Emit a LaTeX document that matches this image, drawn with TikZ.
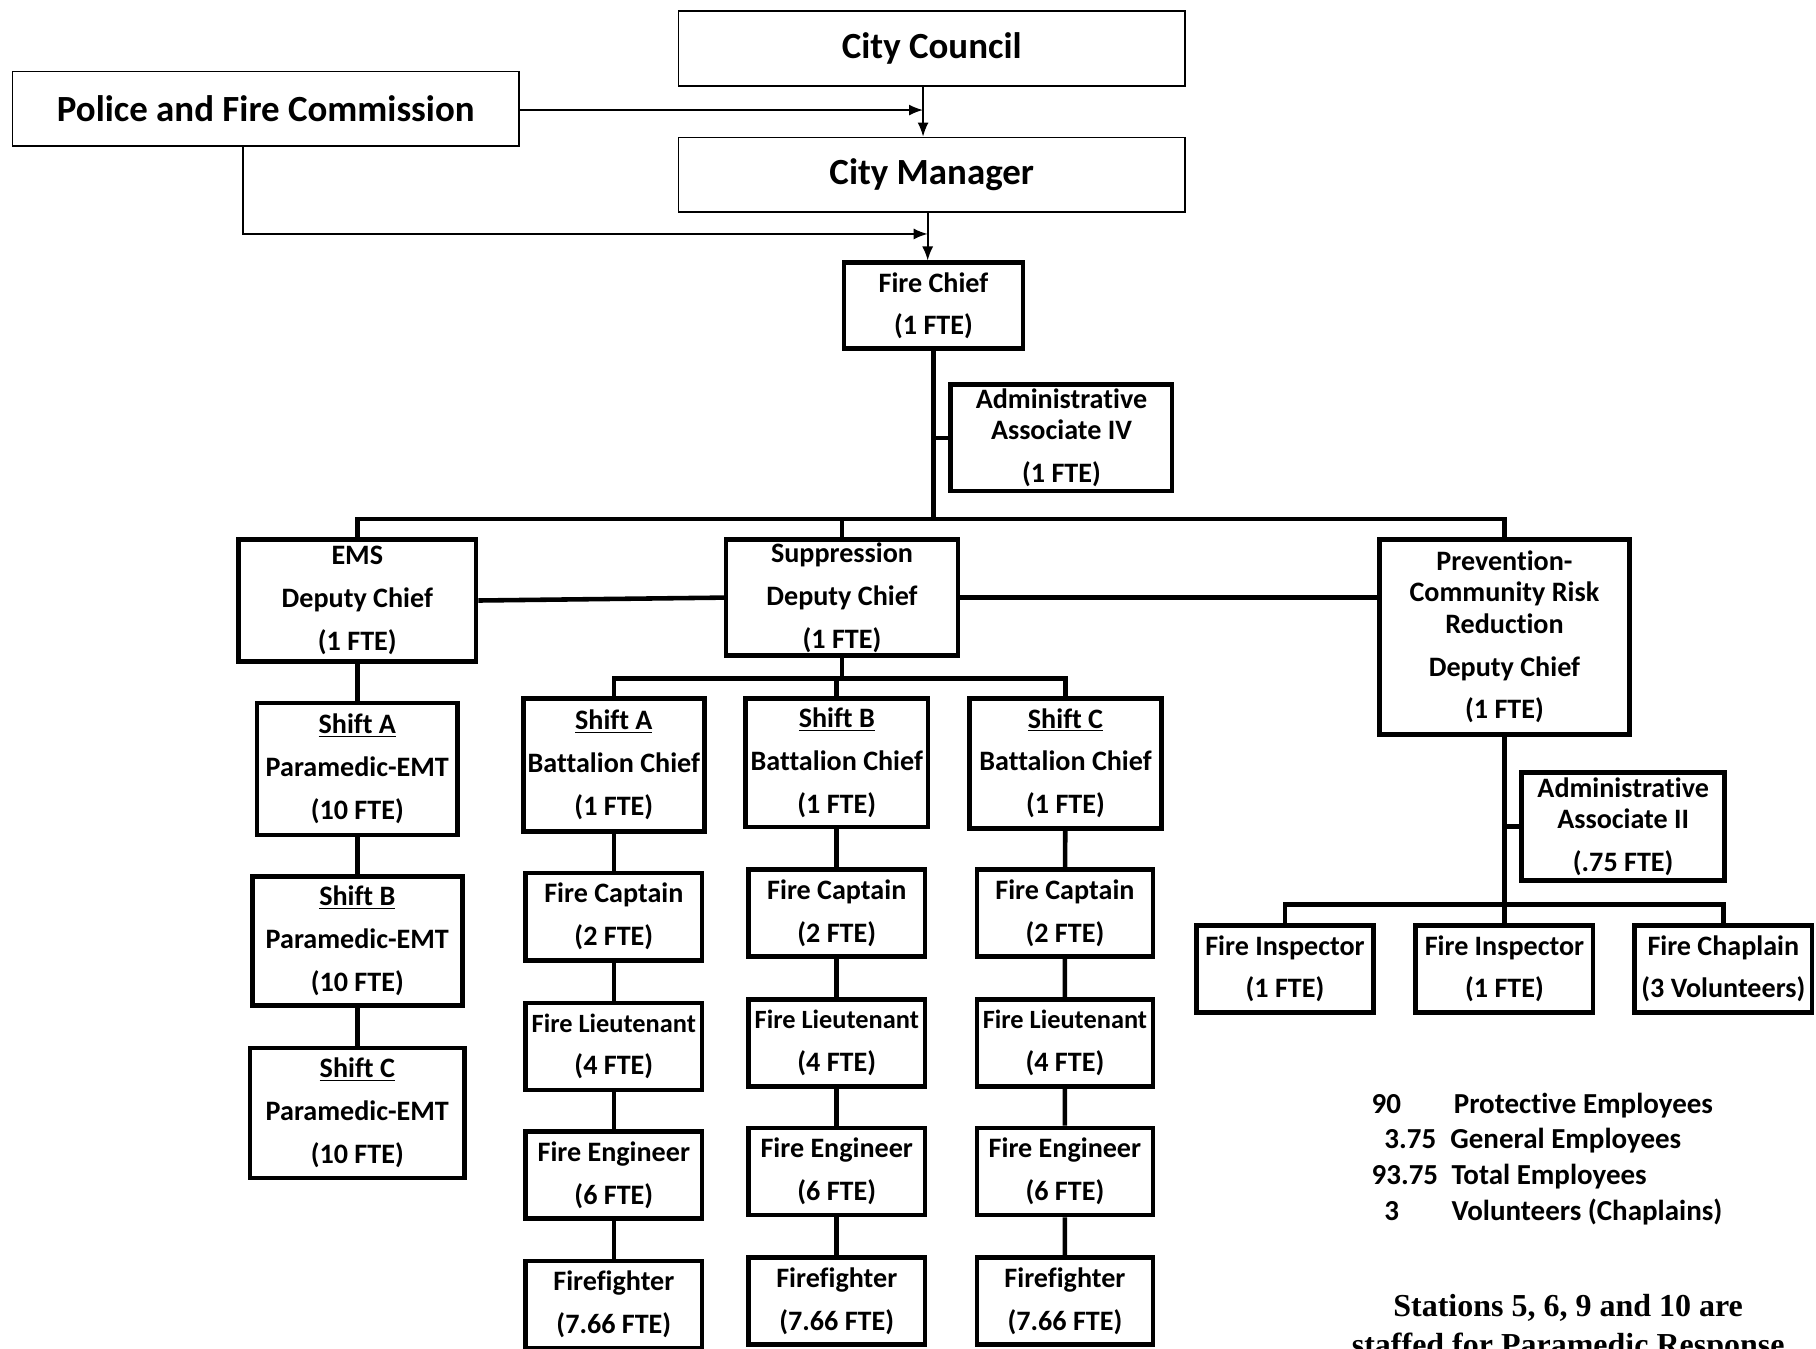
\documentclass[tikz,border=0pt]{standalone}
\usepackage{fontspec}
\setmainfont{Carlito}[Ligatures={TeX,NoCommon}]
\newfontfamily\timesfont{Liberation Serif}
\usetikzlibrary{arrows.meta}

\begin{document}
\begin{tikzpicture}[x=0.023164cm,y=-0.023164cm,
	govbox/.style={draw,line width=1pt,minimum width=10.134cm,minimum height=1.494cm,
		font=\fontsize{21}{25}\selectfont\bfseries},
	unit/.style={draw,line width=2.6pt,inner sep=0pt,align=center,
		font=\fontsize{16}{24.4}\selectfont\bfseries},
	crew/.style={unit,minimum width=3.526cm,minimum height=1.742cm},
	conn/.style={line width=2.6pt},
	arr/.style={line width=1pt,-{Latex[length=0.28cm,width=0.22cm]}},
	tally/.style={inner sep=0pt,anchor=base west,font=\fontsize{16.5}{20}\selectfont\bfseries},
	note/.style={inner sep=0pt,anchor=base,font=\timesfont\fontsize{18.2}{22}\selectfont\bfseries}]
\useasboundingbox (0,0) rectangle (1568,1164);

\node[govbox] (council) at (804.5,42) {City Council};
\node[govbox] (pfc) at (229.5,94) {Police and Fire Commission};
\node[govbox] (manager) at (804.5,151) {City Manager};

\node[unit,minimum width=3.572cm,minimum height=1.719cm] (chief) at (806,264) {Fire Chief\\(1 FTE)};
\node[unit,minimum width=4.429cm,minimum height=2.136cm] (admIV) at (916.5,378)
	{Administrative\\[-6.6pt]Associate IV\\(1 FTE)};

\node[unit,minimum width=4.753cm,minimum height=2.437cm] (ems) at (308.5,518.5) {EMS\\Deputy Chief\\(1 FTE)};
\node[unit,minimum width=4.637cm,minimum height=2.321cm] (sup) at (727,516) {Suppression\\Deputy Chief\\(1 FTE)};
\node[unit,minimum width=5.008cm,minimum height=3.896cm] (prev) at (1299,550)
	{Prevention-\\[-6.6pt]Community Risk\\[-6.6pt]Reduction\\Deputy Chief\\(1 FTE)};

\node[unit,minimum width=4.012cm,minimum height=2.645cm] (emsA) at (308.5,664) {\underline{Shift A}\\Paramedic-EMT\\(10 FTE)};
\node[unit,minimum width=4.197cm,minimum height=2.576cm] (emsB) at (308.5,812.5) {\underline{Shift B}\\Paramedic-EMT\\(10 FTE)};
\node[unit,minimum width=4.290cm,minimum height=2.599cm] (emsC) at (308.5,961) {\underline{Shift C}\\Paramedic-EMT\\(10 FTE)};

\node[unit,minimum width=3.618cm,minimum height=2.668cm] (bcA) at (530,660.5) {\underline{Shift A}\\Battalion Chief\\(1 FTE)};
\node[unit,minimum width=3.641cm,minimum height=2.576cm] (bcB) at (722.5,658.5) {\underline{Shift B}\\Battalion Chief\\(1 FTE)};
\node[unit,minimum width=3.850cm,minimum height=2.599cm] (bcC) at (920,659) {\underline{Shift C}\\Battalion Chief\\(1 FTE)};

\foreach \c/\x/\d in {A/530/0,B/722.5/3,C/919.5/3}{
	\node[crew] (cap\c) at (\x,791.5-\d) {Fire Captain\\(2 FTE)};
	\node[crew] (lt\c) at (\x,903.5-\d) {{\fontsize{15}{24.4}\selectfont Fire Lieutenant}\\(4 FTE)};
	\node[crew] (eng\c) at (\x,1014.5-\d) {Fire Engineer\\(6 FTE)};
	\node[crew] (ff\c) at (\x,1126.5-\d) {Firefighter\\(7.66 FTE)};
	\draw[conn] (bc\c) -- (cap\c) -- (lt\c) -- (eng\c) -- (ff\c);
}

\node[unit,minimum width=4.058cm,minimum height=2.159cm] (admII) at (1401.5,713.5)
	{Administrative\\[-6.6pt]Associate II\\(.75 FTE)};
\node[unit,minimum width=3.549cm,minimum height=1.742cm] (insp1) at (1109.5,836.5) {Fire Inspector\\(1 FTE)};
\node[unit,minimum width=3.549cm,minimum height=1.742cm] (insp2) at (1299,836.5) {Fire Inspector\\(1 FTE)};
\node[unit,minimum width=3.549cm,minimum height=1.742cm] (chap) at (1488,836.5) {Fire Chaplain\\(3 Volunteers)};

\coordinate (j1) at (797,95);
\coordinate (j2) at (801,202);
\draw[arr] (council.south -| j1) -- (manager.north -| j1);
\draw[arr] (pfc.east |- j1) -- (j1);
\draw[arr] (manager.south -| j2) -- (chief.north -| j2);
\draw[arr] ([xshift=-0.452cm]pfc.south) |- (j2);

\coordinate (bar) at (806,448);
\draw[conn] (chief.south) -- (bar);
\draw[conn] (admIV.west) -- (admIV.west -| chief.south);
\draw[conn] (ems.north) |- (bar) -| (prev.north);
\draw[conn] (sup.north) -- (sup.north |- bar);
\draw[conn] (ems.east) -- (sup.west);
\draw[conn] (sup.east) -- (sup.east -| prev.west);

\draw[conn] (ems) -- (emsA) -- (emsB) -- (emsC);

\coordinate (sbar) at (727,586);
\draw[conn] (sup.south) -- (sbar);
\draw[conn] (bcA.north) |- (sbar) -| (bcC.north);
\draw[conn] (bcB.north) -- (bcB.north |- sbar);

\coordinate (pbar) at (1299,781);
\draw[conn] (prev.south) -- (pbar);
\draw[conn] (admII.west) -- (admII.west -| prev.south);
\draw[conn] (insp1.north) |- (pbar) -| (chap.north);
\draw[conn] (insp2.north) -- (insp2.north |- pbar);

\foreach \n/\nx/\t/\tx/\ty [count=\i] in {90/1184/Protective Employees/1255/961,
	3.75/1195/General Employees/1252/992,93.75/1184/Total Employees/1253/1023,
	3/1195/Volunteers (Chaplains)/1253/1054}{
	\node[tally] (num\i) at (\nx,\ty) {\n};
	\node[tally] (lbl\i) at (\tx,\ty) {\t};
}

\node[note] (st1) at (1354,1137) {Stations 5, 6, 9 and 10 are};
\node[note] (st2) at (1354,1170) {staffed for Paramedic Response};
\end{tikzpicture}
\end{document}
